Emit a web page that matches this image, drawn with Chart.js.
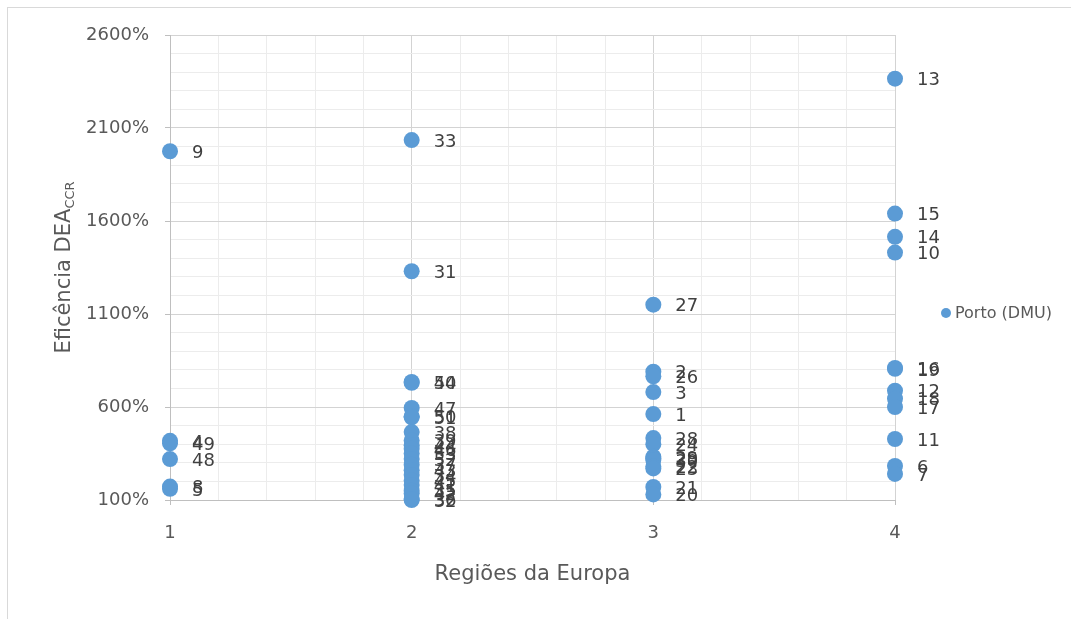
<!DOCTYPE html>
<html>
<head>
<meta charset="utf-8">
<style>
  html, body { margin: 0; padding: 0; background: #ffffff; }
  #wrap { position: relative; width: 1071px; height: 619px; overflow: hidden; }
  canvas { display: block; }
</style>
<script src="https://cdn.jsdelivr.net/npm/chart.js@4.4.1/dist/chart.umd.min.js"></script>
</head>
<body>
<div id="wrap"><canvas id="chart" width="1071" height="619"></canvas></div>
<script>
// DMU identifiers, their European region (1-4) and CCR efficiency in percent
const dmuLabels = [
  9, 4, 49, 48, 8, 5,
  33, 31, 40, 54, 47, 50, 51, 38, 39, 44, 46, 53, 52, 37, 43, 34, 45, 41, 35, 42, 32, 36,
  27, 2, 26, 3, 1, 28, 24, 29, 25, 30, 22, 23, 21, 20,
  13, 15, 14, 10, 16, 19, 12, 18, 17, 11, 6, 7
];
const dmuRegions = [
  1, 1, 1, 1, 1, 1,
  2, 2, 2, 2, 2, 2, 2, 2, 2, 2, 2, 2, 2, 2, 2, 2, 2, 2, 2, 2, 2, 2,
  3, 3, 3, 3, 3, 3, 3, 3, 3, 3, 3, 3, 3, 3,
  4, 4, 4, 4, 4, 4, 4, 4, 4, 4, 4, 4
];
const dmuEfficiency = [
  1975, 418, 405, 320, 172, 160,
  2035, 1330, 735, 730, 595, 550, 545, 465, 420, 395, 375, 350, 320, 290, 260, 235, 205, 180, 150, 135, 100, 105,
  1150, 790, 765, 680, 562, 433, 400, 332, 325, 315, 280, 270, 170, 130,
  2365, 1640, 1515, 1430, 810, 805, 688, 645, 600, 428, 283, 240
];
const seriesName = 'Porto (DMU)';
const xTitle = 'Regiões da Europa';
const yTitleMain = 'Eficência DEA';
const yTitleSub = 'CCR';

const FONT = "'DejaVu Sans', sans-serif";
const MARKER = '#5B9BD5';
const TEXT = '#595959';
const MAJOR_GRID = '#d3d3d3';
const MINOR_GRID = '#ececec';

const points = dmuRegions.map((r, i) => ({ x: r, y: dmuEfficiency[i] }));

const isWhole = v => Math.abs(v - Math.round(v)) < 1e-6;
const isMajorY = v => Math.abs(((v - 100) % 500)) < 1e-6;

// Outer frame of the chart
const framePlugin = {
  id: 'frame',
  beforeDraw(chart) {
    const c = chart.ctx;
    c.save();
    c.fillStyle = '#ffffff';
    c.fillRect(0, 0, chart.width, chart.height);
    c.strokeStyle = '#d9d9d9';
    c.lineWidth = 1;
    c.strokeRect(7.5, 7.5, chart.width + 10, chart.height + 10);
    c.restore();
  }
};

// Number of each DMU written to the right of its marker
const pointLabelPlugin = {
  id: 'pointLabels',
  afterDatasetsDraw(chart) {
    const c = chart.ctx;
    const meta = chart.getDatasetMeta(0);
    c.save();
    c.font = '18px ' + FONT;
    c.fillStyle = '#404040';
    c.textAlign = 'left';
    c.textBaseline = 'middle';
    meta.data.forEach((el, i) => {
      c.fillText(String(dmuLabels[i]), el.x + 22, el.y + 2);
    });
    c.restore();
  }
};

// Vertical axis title with subscript, and the legend entry on the right
const annotationsPlugin = {
  id: 'annotations',
  afterDraw(chart) {
    const c = chart.ctx;
    const area = chart.chartArea;
    c.save();
    // y-axis title
    const mainFont = '21px ' + FONT;
    const subFont = '13px ' + FONT;
    c.font = mainFont;
    const wMain = c.measureText(yTitleMain).width;
    c.font = subFont;
    const wSub = c.measureText(yTitleSub).width;
    const total = wMain + wSub;
    c.translate(62, (area.top + area.bottom) / 2);
    c.rotate(-Math.PI / 2);
    c.fillStyle = TEXT;
    c.textBaseline = 'alphabetic';
    c.textAlign = 'left';
    c.font = mainFont;
    c.fillText(yTitleMain, -total / 2, 8);
    c.font = subFont;
    c.fillText(yTitleSub, -total / 2 + wMain, 12);
    c.restore();

    // legend
    c.save();
    c.fillStyle = MARKER;
    c.beginPath();
    c.arc(946, 313, 5, 0, Math.PI * 2);
    c.fill();
    c.font = '16px ' + FONT;
    c.fillStyle = TEXT;
    c.textAlign = 'left';
    c.textBaseline = 'middle';
    c.fillText(seriesName, 955, 314);
    c.restore();
  }
};

new Chart(document.getElementById('chart'), {
  type: 'scatter',
  data: {
    datasets: [{
      label: seriesName,
      data: points,
      backgroundColor: MARKER,
      borderColor: MARKER,
      borderWidth: 0,
      pointRadius: 8,
      pointHoverRadius: 8,
      clip: false
    }]
  },
  options: {
    responsive: false,
    animation: false,
    events: [],
    layout: { padding: { top: 35, right: 176, left: 0, bottom: 0 } },
    plugins: {
      legend: { display: false },
      tooltip: { enabled: false }
    },
    scales: {
      x: {
        type: 'linear',
        min: 1,
        max: 4,
        afterFit(scale) { scale.height = 119; },
        ticks: {
          stepSize: 0.2,
          autoSkip: false,
          maxRotation: 0,
          padding: 18,
          color: TEXT,
          font: { family: FONT, size: 18 },
          callback: v => isWhole(v) ? String(Math.round(v)) : ''
        },
        grid: {
          color: ctx => (ctx.tick && isWhole(ctx.tick.value)) ? MAJOR_GRID : MINOR_GRID,
          tickColor: ctx => (ctx.tick && isWhole(ctx.tick.value)) ? '#bfbfbf' : 'rgba(0,0,0,0)',
          tickLength: 5,
          lineWidth: 1
        },
        border: { color: '#bfbfbf', width: 1 },
        title: {
          display: true,
          text: xTitle,
          color: TEXT,
          font: { family: FONT, size: 21 },
          padding: { top: 0, bottom: 32 }
        }
      },
      y: {
        type: 'linear',
        min: 100,
        max: 2600,
        afterFit(scale) { scale.width = 170; },
        ticks: {
          stepSize: 100,
          autoSkip: false,
          padding: 16,
          color: TEXT,
          font: { family: FONT, size: 18 },
          callback: v => isMajorY(v) ? v + '%' : ''
        },
        grid: {
          color: ctx => (ctx.tick && isMajorY(ctx.tick.value)) ? MAJOR_GRID : MINOR_GRID,
          tickColor: ctx => (ctx.tick && isMajorY(ctx.tick.value)) ? '#bfbfbf' : 'rgba(0,0,0,0)',
          tickLength: 5,
          lineWidth: 1
        },
        border: { color: '#bfbfbf', width: 1 }
      }
    }
  },
  plugins: [framePlugin, pointLabelPlugin, annotationsPlugin]
});
</script>
</body>
</html>
